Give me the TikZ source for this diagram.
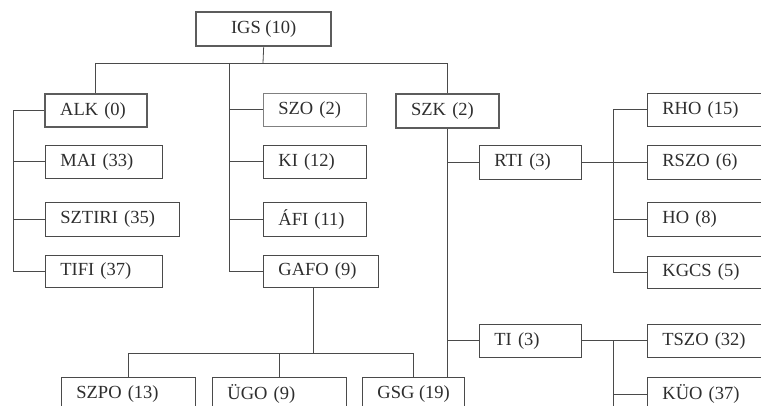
\documentclass[tikz,border=0pt]{standalone}
\usepackage{fontspec}
\setmainfont{Liberation Serif}
\definecolor{ink}{HTML}{2E2E2E}
\definecolor{lin}{HTML}{4A4A4A}
\begin{document}
\begin{tikzpicture}[x=1pt,y=-1pt,
  base/.style={draw=lin, anchor=north west, inner xsep=15pt, inner ysep=0pt,
    align=left, text=ink, font=\fontsize{18.5}{20}\selectfont},
  box/.style={base, line width=0.8pt},
  thinbox/.style={base, line width=0.6pt, draw=lin!70},
  thickbox/.style={base, line width=2.3pt, draw=lin!90},
  conn/.style={draw=lin, line width=0.8pt}]
\clip (0,0) rectangle (761,406);
\fill[white] (0,0) rectangle (761,406);
% boxes
\node[thickbox, align=center, minimum width=135pt, minimum height=34pt] (igs) at (195,11) {IGS (10)};
\node[thickbox, minimum width=102pt, text width=72pt, minimum height=33pt] (alk) at (44,93) {ALK (0)};
\node[thinbox, minimum width=103pt, text width=73pt, minimum height=33pt] (szo) at (263,93) {SZO (2)};
\node[thickbox, minimum width=103pt, text width=73pt, minimum height=34pt] (szk) at (395,93) {SZK (2)};
\node[box, minimum width=117pt, text width=87pt, minimum height=33pt] (mai) at (45,145) {MAI (33)};
\node[box, minimum width=134pt, text width=104pt, minimum height=34pt] (sztiri) at (45,202) {SZTIRI (35)};
\node[box, minimum width=117pt, text width=87pt, minimum height=32pt] (tifi) at (45,255) {TIFI (37)};
\node[box, minimum width=103pt, text width=73pt, minimum height=33pt] (ki) at (263,145) {KI (12)};
\node[box, minimum width=103pt, text width=73pt, minimum height=34pt] (afi) at (263,202) {ÁFI (11)};
\node[box, minimum width=115pt, text width=85pt, minimum height=32pt] (gafo) at (263,255) {GAFO (9)};
\node[box, minimum width=102pt, text width=72pt, minimum height=34pt] (rti) at (479,145) {RTI (3)};
\node[box, minimum width=133pt, text width=103pt, minimum height=33pt] (rho) at (647,93) {RHO (15)};
\node[box, minimum width=133pt, text width=103pt, minimum height=34pt] (rszo) at (647,145) {RSZO (6)};
\node[box, minimum width=133pt, text width=103pt, minimum height=34pt] (ho) at (647,202) {HO (8)};
\node[box, minimum width=133pt, text width=103pt, minimum height=32pt] (kgcs) at (647,256) {KGCS (5)};
\node[box, minimum width=102pt, text width=72pt, minimum height=33pt] (ti) at (479,324) {TI (3)};
\node[box, minimum width=133pt, text width=103pt, minimum height=33pt] (tszo) at (647,324) {TSZO (32)};
\node[box, minimum width=133pt, text width=103pt, minimum height=33pt] (kuo) at (647,377) {KÜO (37)};
\node[box, minimum width=134pt, text width=104pt, minimum height=33pt] (szpo) at (61,377) {SZPO (13)};
\node[box, minimum width=134pt, text width=104pt, minimum height=33pt] (ugo) at (212,377) {ÜGO (9)};
\node[box, align=center, minimum width=101pt, minimum height=33pt] (gsg) at (362,377) {GSG (19)};
% bus coordinates
\coordinate (topbus) at (263,63);
\coordinate (lbus) at (13,0);
\coordinate (mbus) at (229,0);
\coordinate (sbus) at (447,0);
\coordinate (rbus) at (613,0);
\coordinate (gbus) at (313,353);
% top level
\draw[conn] (igs.south) -- (topbus);
\draw[conn] (95,63) -- (447,63);
\draw[conn] (95,63) -- (alk.north -| 95,0);
\draw[conn] (szk.north -| sbus) -- (447,63);
% left column
\draw[conn] (alk.west) -- (alk.west -| lbus) -- (tifi.west -| lbus) -- (tifi.west);
\draw[conn] (mai.west -| lbus) -- (mai.west);
\draw[conn] (sztiri.west -| lbus) -- (sztiri.west);
% middle column
\draw[conn] (229,63) -- (gafo.west -| mbus) -- (gafo.west);
\draw[conn] (szo.west -| mbus) -- (szo.west);
\draw[conn] (ki.west -| mbus) -- (ki.west);
\draw[conn] (afi.west -| mbus) -- (afi.west);
% SZK column
\draw[conn] (szk.south -| sbus) -- (gsg.north -| sbus);
\draw[conn] (rti.west -| sbus) -- (rti.west);
\draw[conn] (ti.west -| sbus) -- (ti.west);
% RTI group
\draw[conn] (rti.east) -- (rszo.west);
\draw[conn] (rho.west) -- (rho.west -| rbus) -- (kgcs.west -| rbus) -- (kgcs.west);
\draw[conn] (ho.west -| rbus) -- (ho.west);
% TI group
\draw[conn] (ti.east) -- (tszo.west);
\draw[conn] (tszo.west -| rbus) -- (613,410);
\draw[conn] (kuo.west -| rbus) -- (kuo.west);
% GAFO group
\draw[conn] (gafo.south -| gbus) -- (gbus);
\draw[conn] (128,353) -- (413,353);
\draw[conn] (128,353) -- (szpo.north -| 128,0);
\draw[conn] (279,353) -- (ugo.north -| 279,0);
\draw[conn] (413,353) -- (gsg.north -| 413,0);
\end{tikzpicture}
\end{document}
